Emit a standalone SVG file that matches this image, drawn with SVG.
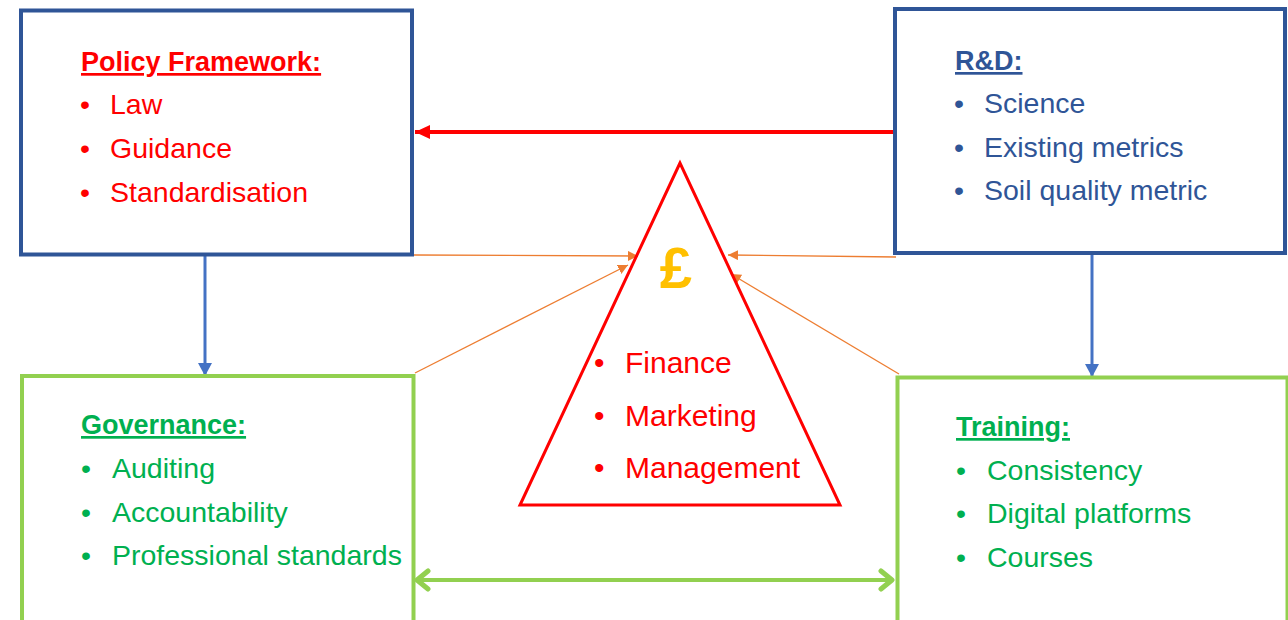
<svg xmlns="http://www.w3.org/2000/svg" width="1288" height="620" viewBox="0 0 1288 620">
<style>
text{font-family:"Liberation Sans",Arial,sans-serif;}
.box{fill:#fff;stroke-width:4;}
.blueBox{stroke:#2F5597;}
.greenBox{stroke:#92D050;}
.title{font-size:27px;font-weight:bold;text-decoration:underline;}
.item{font-size:28.5px;}
.red{fill:#FF0000;}
.navy{fill:#2F5597;}
.green{fill:#00B050;}
</style>
<defs>
<marker id="redHead" markerUnits="userSpaceOnUse" markerWidth="16" markerHeight="14" refX="15" refY="7" orient="auto"><path d="M0,0 L15,7 L0,14 z" fill="#FF0000"/></marker>
<marker id="blueHead" markerUnits="userSpaceOnUse" markerWidth="14" markerHeight="14" refX="13" refY="7" orient="auto"><path d="M0,0 L13,7 L0,14 z" fill="#4472C4"/></marker>
<marker id="orangeHead" markerUnits="userSpaceOnUse" markerWidth="11" markerHeight="10" refX="10" refY="5" orient="auto"><path d="M0,0 L10,5 L0,10 z" fill="#ED7D31"/></marker>
<marker id="greenHead" markerUnits="userSpaceOnUse" markerWidth="20" markerHeight="24" refX="17" refY="12" orient="auto-start-reverse"><path d="M5,3 L16,12 L5,21" fill="none" stroke="#92D050" stroke-width="5" stroke-linecap="round" stroke-linejoin="round"/></marker>
</defs>

<g id="connectors">
<line x1="893" y1="132" x2="415" y2="132" stroke="#FF0000" stroke-width="4" marker-end="url(#redHead)"/>
<line x1="205" y1="256" x2="205" y2="376" stroke="#4472C4" stroke-width="3" marker-end="url(#blueHead)"/>
<line x1="1092" y1="255" x2="1092" y2="377" stroke="#4472C4" stroke-width="3" marker-end="url(#blueHead)"/>
<line x1="416" y1="580" x2="893" y2="580" stroke="#92D050" stroke-width="4" marker-start="url(#greenHead)" marker-end="url(#greenHead)"/>
<line x1="414" y1="255" x2="638" y2="256" stroke="#ED7D31" stroke-width="1.3" marker-end="url(#orangeHead)"/>
<line x1="415" y1="373" x2="628" y2="265" stroke="#ED7D31" stroke-width="1.3" marker-end="url(#orangeHead)"/>
<line x1="896" y1="257" x2="728" y2="255" stroke="#ED7D31" stroke-width="1.3" marker-end="url(#orangeHead)"/>
<line x1="899" y1="374" x2="731" y2="274" stroke="#ED7D31" stroke-width="1.3" marker-end="url(#orangeHead)"/>
</g>

<g id="policy">
<rect class="box blueBox" x="21" y="10.5" width="391" height="244"/>
<text class="title red" x="81" y="71">Policy Framework:</text>
<text class="item red" x="80" y="114">•</text><text class="item red" x="110" y="114">Law</text>
<text class="item red" x="80" y="158">•</text><text class="item red" x="110" y="158">Guidance</text>
<text class="item red" x="80" y="202">•</text><text class="item red" x="110" y="202">Standardisation</text>
</g>

<g id="rnd">
<rect class="box blueBox" x="895" y="9" width="390" height="244"/>
<text class="title navy" x="955" y="70">R&amp;D:</text>
<text class="item navy" x="954" y="113">•</text><text class="item navy" x="984" y="113">Science</text>
<text class="item navy" x="954" y="157">•</text><text class="item navy" x="984" y="157">Existing metrics</text>
<text class="item navy" x="954" y="200">•</text><text class="item navy" x="984" y="200">Soil quality metric</text>
</g>

<g id="governance">
<rect class="box greenBox" x="22" y="376" width="391.5" height="246"/>
<text class="title green" x="81" y="434">Governance:</text>
<text class="item green" x="81" y="478">•</text><text class="item green" x="112" y="478">Auditing</text>
<text class="item green" x="81" y="522">•</text><text class="item green" x="112" y="522">Accountability</text>
<text class="item green" x="81" y="565">•</text><text class="item green" x="112" y="565">Professional standards</text>
</g>

<g id="training">
<rect class="box greenBox" x="897.5" y="377.5" width="390" height="246"/>
<text class="title green" x="956" y="436">Training:</text>
<text class="item green" x="956" y="480">•</text><text class="item green" x="987" y="480">Consistency</text>
<text class="item green" x="956" y="523">•</text><text class="item green" x="987" y="523">Digital platforms</text>
<text class="item green" x="956" y="567">•</text><text class="item green" x="987" y="567">Courses</text>
</g>

<g id="finance">
<polygon points="680,163 520,505 840,505" fill="none" stroke="#FF0000" stroke-width="3" stroke-linejoin="miter"/>
<text x="676" y="288" text-anchor="middle" font-size="58" font-weight="bold" fill="#FFC000">£</text>
<text class="red" x="594" y="373" font-size="30">•</text><text class="red" x="625" y="373" font-size="30">Finance</text>
<text class="red" x="594" y="426" font-size="30">•</text><text class="red" x="625" y="426" font-size="30">Marketing</text>
<text class="red" x="594" y="478" font-size="30">•</text><text class="red" x="625" y="478" font-size="30">Management</text>
</g>
</svg>
